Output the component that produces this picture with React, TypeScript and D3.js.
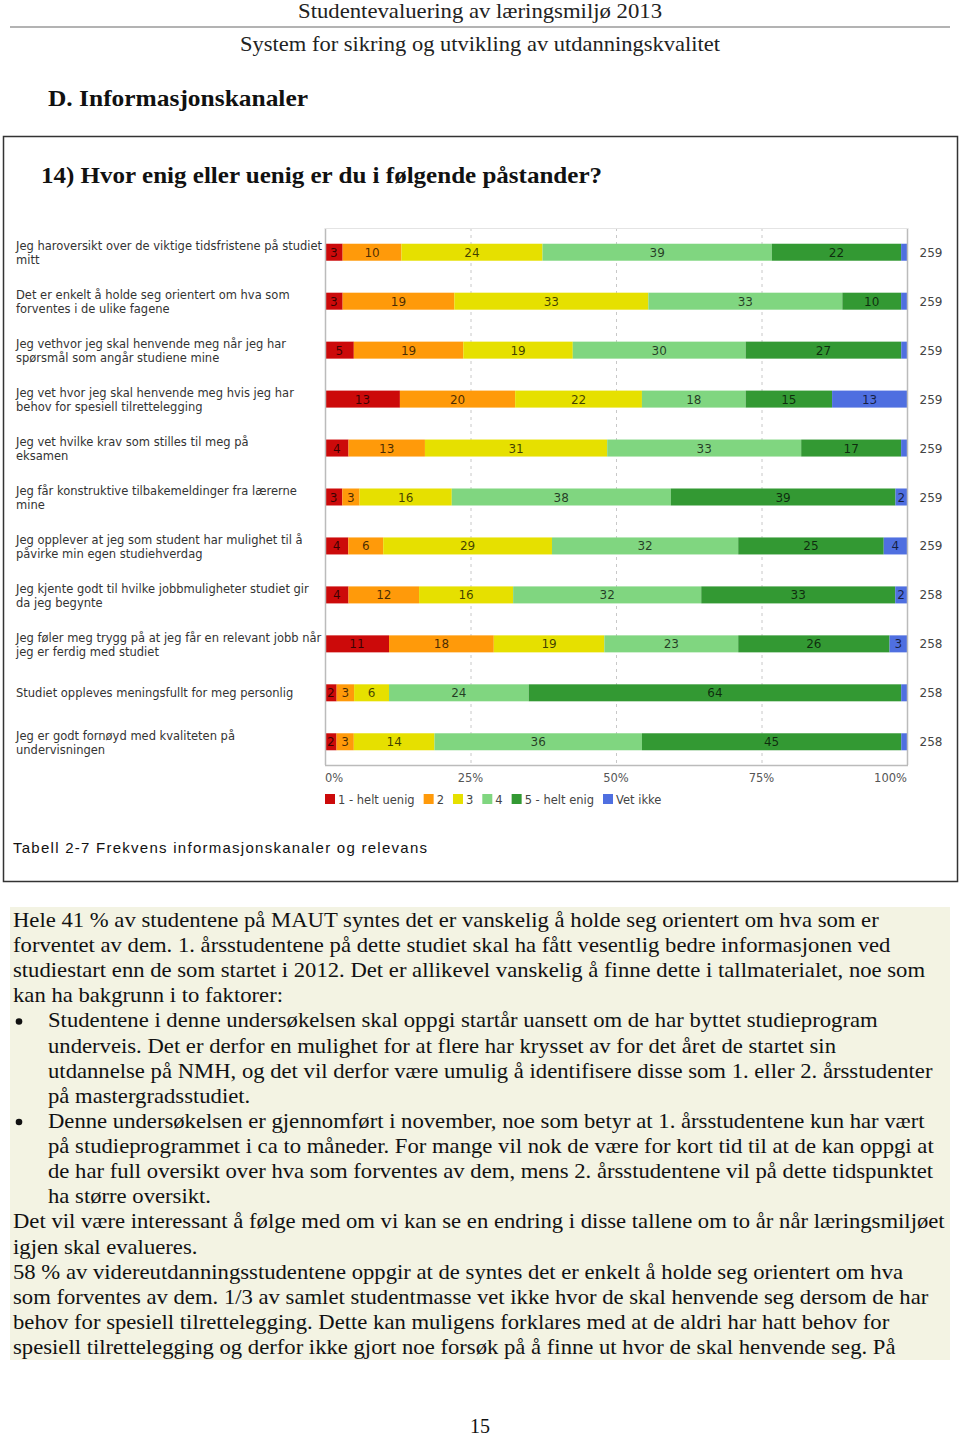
import React, { useEffect, useRef } from "react";
import * as d3 from "d3";

const questions: string[][] = [
  ["Jeg haroversikt over de viktige tidsfristene på studiet", "mitt"],
  ["Det er enkelt å holde seg orientert om hva som", "forventes i de ulike fagene"],
  ["Jeg vethvor jeg skal henvende meg når jeg har", "spørsmål som angår studiene mine"],
  ["Jeg vet hvor jeg skal henvende meg hvis jeg har", "behov for spesiell tilrettelegging"],
  ["Jeg vet hvilke krav som stilles til meg på", "eksamen"],
  ["Jeg får konstruktive tilbakemeldinger fra lærerne", "mine"],
  ["Jeg opplever at jeg som student har mulighet til å", "påvirke min egen studiehverdag"],
  ["Jeg kjente godt til hvilke jobbmuligheter studiet gir", "da jeg begynte"],
  ["Jeg føler meg trygg på at jeg får en relevant jobb når", "jeg er ferdig med studiet"],
  ["Studiet oppleves meningsfullt for meg personlig"],
  ["Jeg er godt fornøyd med kvaliteten på", "undervisningen"],
];

const categories = ["1 - helt uenig", "2", "3", "4", "5 - helt enig", "Vet ikke"];
const colors = ["#cc0a0a", "#ff9a0a", "#e6e000", "#80d680", "#339933", "#4f6fe0"];

const s1 = [3, 3, 5, 13, 4, 3, 4, 4, 11, 2, 2];
const s2 = [10, 19, 19, 20, 13, 3, 6, 12, 18, 3, 3];
const s3 = [24, 33, 19, 22, 31, 16, 29, 16, 19, 6, 14];
const s4 = [39, 33, 30, 18, 33, 38, 32, 32, 23, 24, 36];
const s5 = [22, 10, 27, 15, 17, 39, 25, 33, 26, 64, 45];
const sVet = [1, 1, 1, 13, 1, 2, 4, 2, 3, 1, 1];
const nValues = [259, 259, 259, 259, 259, 259, 259, 258, 258, 258, 258];
const tickValues = [0, 0.25, 0.5, 0.75, 1];

const paragraphLines: { text: string; bullet?: boolean; indent?: boolean }[] = [
  { text: "Hele 41 % av studentene på MAUT syntes det er vanskelig å holde seg orientert om hva som er" },
  { text: "forventet av dem. 1. årsstudentene på dette studiet skal ha fått vesentlig bedre informasjonen ved" },
  { text: "studiestart enn de som startet i 2012. Det er allikevel vanskelig å finne dette i tallmaterialet, noe som" },
  { text: "kan ha bakgrunn i to faktorer:" },
  { text: "Studentene i denne undersøkelsen skal oppgi startår uansett om de har byttet studieprogram", bullet: true, indent: true },
  { text: "underveis. Det er derfor en mulighet for at flere har krysset av for det året de startet sin", indent: true },
  { text: "utdannelse på NMH, og det vil derfor være umulig å identifisere disse som 1. eller 2. årsstudenter", indent: true },
  { text: "på mastergradsstudiet.", indent: true },
  { text: "Denne undersøkelsen er gjennomført i november, noe som betyr at 1. årsstudentene kun har vært", bullet: true, indent: true },
  { text: "på studieprogrammet i ca to måneder. For mange vil nok de være for kort tid til at de kan oppgi at", indent: true },
  { text: "de har full oversikt over hva som forventes av dem, mens 2. årsstudentene vil på dette tidspunktet", indent: true },
  { text: "ha større oversikt.", indent: true },
  { text: "Det vil være interessant å følge med om vi kan se en endring i disse tallene om to år når læringsmiljøet" },
  { text: "igjen skal evalueres." },
  { text: "58 % av videreutdanningsstudentene oppgir at de syntes det er enkelt å holde seg orientert om hva" },
  { text: "som forventes av dem. 1/3 av samlet studentmasse vet ikke hvor de skal henvende seg dersom de har" },
  { text: "behov for spesiell tilrettelegging. Dette kan muligens forklares med at de aldri har hatt behov for" },
  { text: "spesiell tilrettelegging og derfor ikke gjort noe forsøk på å finne ut hvor de skal henvende seg. På" },
];

export default function App() {
  const ref = useRef<SVGSVGElement>(null);

  useEffect(() => {
    const svg = d3.select(ref.current);
    svg.selectAll("*").remove();

    const serif = "'Liberation Serif', 'DejaVu Serif', serif";
    const sans = "'DejaVu Sans', Verdana, sans-serif";

    // Header
    svg.append("text").attr("x", 480).attr("y", 18).attr("text-anchor", "middle")
      .attr("font-family", serif).attr("font-size", 21).attr("fill", "#222")
      .attr("textLength", 364).attr("lengthAdjust", "spacingAndGlyphs")
      .text("Studentevaluering av læringsmiljø 2013");
    svg.append("line").attr("x1", 10).attr("x2", 950).attr("y1", 27).attr("y2", 27)
      .attr("stroke", "#9a9a9a").attr("stroke-width", 1.5);
    svg.append("text").attr("x", 480).attr("y", 51).attr("text-anchor", "middle")
      .attr("font-family", serif).attr("font-size", 21).attr("fill", "#222")
      .attr("textLength", 480).attr("lengthAdjust", "spacingAndGlyphs")
      .text("System for sikring og utvikling av utdanningskvalitet");
    svg.append("text").attr("x", 48).attr("y", 106)
      .attr("font-family", serif).attr("font-size", 24).attr("font-weight", "bold").attr("fill", "#111")
      .attr("textLength", 260).attr("lengthAdjust", "spacingAndGlyphs")
      .text("D.  Informasjonskanaler");

    // Box
    svg.append("rect").attr("x", 3.5).attr("y", 136.5).attr("width", 954).attr("height", 745)
      .attr("fill", "none").attr("stroke", "#333").attr("stroke-width", 1.5);
    svg.append("text").attr("x", 41).attr("y", 183)
      .attr("font-family", serif).attr("font-size", 24).attr("font-weight", "bold").attr("fill", "#111")
      .attr("textLength", 561).attr("lengthAdjust", "spacingAndGlyphs")
      .text("14) Hvor enig eller uenig er du i følgende påstander?");

    // Chart
    const x0 = 325, x1 = 907;
    const top = 228, bottom = 765;
    const x = d3.scaleLinear().domain([0, 1]).range([x0, x1]);
    const y = d3.scaleBand<number>().domain(d3.range(questions.length)).range([228, 766]).paddingInner(0.65).paddingOuter(0.32);
    const series = [s1, s2, s3, s4, s5, sVet];
    const rows = questions.map((_, i) => series.map((s) => s[i]));
    const stack = rows.map((vals) => {
      const total = d3.sum(vals);
      let acc = 0;
      return vals.map((v, k) => {
        const start = acc / total;
        acc += v;
        return { v, k, start, end: acc / total };
      });
    });

    const g = svg.append("g");
    g.selectAll("line.grid").data(tickValues.slice(1, 4)).enter().append("line")
      .attr("x1", (d) => x(d) + 0.5).attr("x2", (d) => x(d) + 0.5)
      .attr("y1", top).attr("y2", bottom)
      .attr("stroke", "#c8c8c8").attr("stroke-dasharray", "3,4");

    const bh = 17;
    stack.forEach((segs, i) => {
      const cy = (y(i) as number) + y.bandwidth() / 2;
      const rg = g.append("g");
      rg.selectAll("rect").data(segs).enter().append("rect")
        .attr("x", (d) => x(d.start)).attr("width", (d) => x(d.end) - x(d.start))
        .attr("y", cy - bh / 2).attr("height", bh)
        .attr("fill", (d) => colors[d.k]);
      rg.selectAll("text").data(segs.filter((d) => d.v >= 2)).enter().append("text")
        .attr("x", (d) => (x(d.start) + x(d.end)) / 2).attr("y", cy + 4.5)
        .attr("text-anchor", "middle").attr("font-family", sans).attr("font-size", 12)
        .attr("fill", "#000").attr("fill-opacity", 0.72)
        .text((d) => String(d.v));
      const lines = questions[i];
      const offs = lines.length === 1 ? [4] : [-2, 12];
      lines.forEach((ln, j) => {
        svg.append("text").attr("x", 16).attr("y", cy + offs[j])
          .attr("font-family", sans).attr("font-size", 11.5).attr("fill", "#333")
          .text(ln);
      });
      svg.append("text").attr("x", 931).attr("y", cy + 4.5).attr("text-anchor", "middle")
        .attr("font-family", sans).attr("font-size", 12).attr("fill", "#444")
        .text(String(nValues[i]));
    });

    // frame
    g.append("line").attr("x1", x0 + 0.5).attr("x2", x0 + 0.5).attr("y1", top).attr("y2", bottom).attr("stroke", "#bbb").attr("stroke-width", 1.5);
    g.append("line").attr("x1", x1 + 0.5).attr("x2", x1 + 0.5).attr("y1", top).attr("y2", bottom).attr("stroke", "#bbb").attr("stroke-width", 1.5);
    g.append("line").attr("x1", x0).attr("x2", x1 + 1).attr("y1", bottom + 0.5).attr("y2", bottom + 0.5).attr("stroke", "#bbb").attr("stroke-width", 1.5);
    g.append("line").attr("x1", x0).attr("x2", x1 + 1).attr("y1", top + 0.5).attr("y2", top + 0.5).attr("stroke", "#e4e4e4").attr("stroke-width", 1);

    g.selectAll("text.tick").data(tickValues).enter().append("text")
      .attr("x", (d) => x(d)).attr("y", 782)
      .attr("text-anchor", (d) => (d === 0 ? "start" : d === 1 ? "end" : "middle"))
      .attr("font-family", sans).attr("font-size", 11.5).attr("fill", "#555")
      .text((d) => d3.format(".0%")(d));

    // legend
    let lx = x0;
    categories.forEach((c, k) => {
      svg.append("rect").attr("x", lx).attr("y", 794).attr("width", 10).attr("height", 10).attr("fill", colors[k]);
      const t = svg.append("text").attr("x", lx + 13).attr("y", 803.5)
        .attr("font-family", sans).attr("font-size", 11.5).attr("fill", "#444").text(c);
      const w = (t.node() as SVGTextElement).getComputedTextLength();
      lx += 13 + w + 9;
    });

    svg.append("text").attr("x", 13).attr("y", 853)
      .attr("font-family", "'Liberation Sans', Arial, sans-serif").attr("font-size", 15).attr("fill", "#111")
      .attr("textLength", 414).attr("lengthAdjust", "spacing")
      .text("Tabell 2-7 Frekvens informasjonskanaler og relevans");

    // paragraph block
    svg.append("rect").attr("x", 10).attr("y", 907).attr("width", 940).attr("height", 453).attr("fill", "#f3f3e3");
    const hs = 1.08;
    paragraphLines.forEach((ln, i) => {
      const by = 927 + i * 25.12;
      if (ln.bullet) {
        svg.append("circle").attr("cx", 19).attr("cy", by - 6).attr("r", 3.3).attr("fill", "#111");
      }
      const lx0 = ln.indent ? 48 : 13;
      svg.append("text").attr("x", 0).attr("y", 0)
        .attr("transform", `translate(${lx0},${by}) scale(${hs},1)`)
        .attr("font-family", serif).attr("font-size", 21).attr("fill", "#111")
        .text(ln.text);
    });

    svg.append("text").attr("x", 480).attr("y", 1433).attr("text-anchor", "middle")
      .attr("font-family", serif).attr("font-size", 20).attr("fill", "#111").text("15");
  }, []);

  return (
    <svg ref={ref} width={960} height={1436} style={{ position: "absolute", left: 0, top: 0, background: "#fff" }} />
  );
}
